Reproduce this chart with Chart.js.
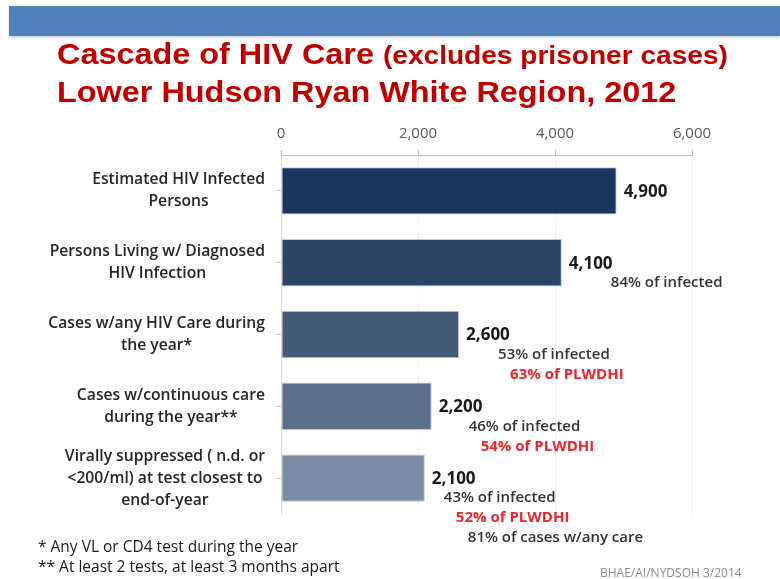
<!DOCTYPE html>
<html>
<head>
<meta charset="utf-8">
<script src="https://cdn.jsdelivr.net/npm/chart.js@4.4.1/dist/chart.umd.min.js"></script>
<style>
    html, body { margin: 0; padding: 0; background: #fff; }
    #wrap { position: relative; width: 780px; height: 579px; overflow: hidden; }
    #band { position: absolute; left: 9px; top: 6px; width: 771px; height: 30px; background: #4f81bd;
            box-shadow: 0 2px 3px rgba(120, 140, 170, 0.35); }
    .title { position: absolute; left: 57px; color: #c00000; font-family: "Liberation Sans", Arial, sans-serif;
             font-weight: bold; font-size: 30px; white-space: nowrap; transform: scaleX(1.08); transform-origin: left top; }
    .title small { font-size: 26px; }
    #t1 { top: 37px; }
    #t2 { top: 75px; }
    canvas { position: absolute; left: 0; top: 0; }
    .note { position: absolute; left: 38px; font-family: "Open Sans", sans-serif; font-size: 15.5px; color: #1a1a1a; white-space: nowrap; }
    #n1 { top: 535px; }
    #n2 { top: 555px; }
    #src { position: absolute; left: 600px; top: 564px; font-family: "Open Sans", sans-serif; font-size: 12px; color: #8a8a8a; }
</style>
</head>
<body>
<div id="wrap">
    <div id="band"></div>
    <canvas id="chartCascade" width="780" height="579"></canvas>
    <div class="title" id="t1">Cascade of HIV Care <small>(excludes prisoner cases)</small></div>
    <div class="title" id="t2">Lower Hudson Ryan White Region, 2012</div>
    <div class="note" id="n1">* Any VL or CD4 test during the year</div>
    <div class="note" id="n2">** At least 2 tests, at least 3 months apart</div>
    <div id="src">BHAE/AI/NYDSOH 3/2014</div>
</div>

<script>
/* ============================
   Datos
============================ */
const categorias = [
    ["Estimated HIV Infected", "Persons"],
    ["Persons Living w/ Diagnosed", "HIV Infection"],
    ["Cases w/any HIV Care during", "the year*"],
    ["Cases w/continuous care", "during the year**"],
    ["Virally suppressed ( n.d. or", "<200/ml) at test closest to", "end-of-year"]
];
const personas = [4900, 4100, 2600, 2200, 2100];
const pctInfectados = [null, 84, 53, 46, 43];
const pctPLWDHI = [null, null, 63, 54, 52];
const pctConCuidado = [null, null, null, null, 81];
const ejeTicks = [0, 2000, 4000, 6000];

const coloresBarra = ["#17375e", "#2b4569", "#435a78", "#5b6f8c", "#7a8ba3"];

const fmt = (v) => v.toLocaleString("en-US");

/* ============================
   Etiquetas: categorias + valores
============================ */
const etiquetasPlugin = {
    id: "etiquetas",
    afterDraw(chart, args, opts) {
        const { ctx } = chart;
        const xs = chart.scales.x;
        const ys = chart.scales.y;
        ctx.save();
        ctx.textBaseline = "middle";

        // categorias: bloque alineado a la derecha, lineas centradas entre si
        ctx.font = "600 15.7px 'Open Sans'";
        ctx.fillStyle = "#262626";
        ctx.textAlign = "center";
        const derecha = xs.left - 16;
        categorias.forEach((lineas, i) => {
            const cy = ys.getPixelForValue(i);
            const ancho = Math.max(...lineas.map((l) => ctx.measureText(l).width));
            const cx = derecha - ancho / 2;
            const y0 = cy - ((lineas.length - 1) * 22) / 2;
            lineas.forEach((l, k) => ctx.fillText(l, cx, y0 + k * 22));
        });

        // valores y porcentajes al final de cada barra
        ctx.textAlign = "left";
        personas.forEach((v, i) => {
            const fin = xs.getPixelForValue(v);
            const cy = ys.getPixelForValue(i);
            ctx.font = "bold 17px 'Open Sans'";
            ctx.fillStyle = "#1a1a1a";
            ctx.fillText(fmt(v), fin + 7, cy + 1);

            const notas = [];
            if (pctInfectados[i] != null) notas.push({ t: pctInfectados[i] + "% of infected", c: "#333333", f: "600 15px 'Open Sans'" });
            if (pctPLWDHI[i] != null) notas.push({ t: pctPLWDHI[i] + "% of PLWDHI", c: "#e8262b", f: "bold 15px 'Open Sans'" });
            if (pctConCuidado[i] != null) notas.push({ t: pctConCuidado[i] + "% of cases w/any care", c: "#333333", f: "600 15px 'Open Sans'" });
            notas.forEach((n, k) => {
                ctx.font = n.f;
                ctx.fillStyle = n.c;
                ctx.fillText(n.t, fin + opts.sangria[i] + k * 12, cy + 20 * (k + 1));
            });
        });
        ctx.restore();
    }
};

/* ============================
   Grafica
============================ */
new Chart(document.getElementById("chartCascade").getContext("2d"), {
    type: "bar",
    data: {
        labels: categorias,
        datasets: [{
            data: personas,
            backgroundColor: coloresBarra,
            borderColor: "rgba(190, 198, 212, 0.9)",
            borderWidth: 1,
            borderSkipped: false,
            categoryPercentage: 1,
            barPercentage: 0.66
        }]
    },
    options: {
        indexAxis: "y",
        responsive: false,
        animation: false,
        layout: { padding: { left: 0, right: 88, top: 0, bottom: 65 } },
        plugins: {
            legend: { display: false },
            tooltip: { enabled: false },
            etiquetas: { sangria: [0, 49, 39, 37, 19] }
        },
        scales: {
            x: {
                position: "top",
                min: 0,
                max: 6000,
                afterBuildTicks: (s) => { s.ticks = ejeTicks.map((v) => ({ value: v })); },
                afterFit: (s) => { s.height = 155; },
                ticks: {
                    callback: (v) => fmt(v),
                    color: "#595959",
                    font: { family: "'Open Sans'", size: 15 },
                    padding: 7
                },
                grid: { color: "#efefef", tickColor: "#bfbfbf", tickLength: 5 },
                border: { color: "#bfbfbf" }
            },
            y: {
                afterFit: (s) => { s.width = 281; },
                ticks: { display: false },
                grid: { drawOnChartArea: false, offset: false, tickLength: 6, tickColor: "#d0d0d0" },
                border: { color: "#d9d9d9" }
            }
        }
    },
    plugins: [etiquetasPlugin]
});
</script>
</body>
</html>
